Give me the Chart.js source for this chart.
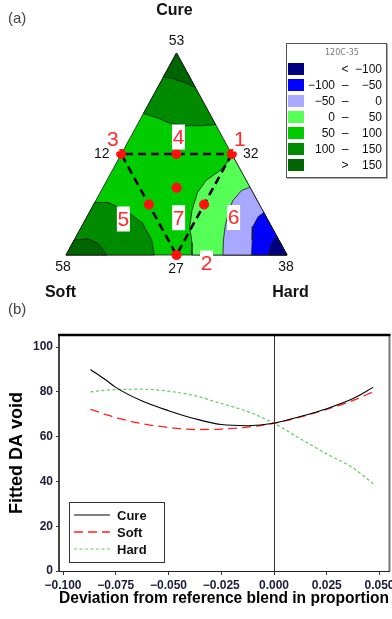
<!DOCTYPE html>
<html>
<head>
<meta charset="utf-8">
<script src="https://cdn.jsdelivr.net/npm/chart.js@4.4.1/dist/chart.umd.min.js"></script>
<style>
  html, body { margin: 0; padding: 0; background: #fff; }
  body { width: 392px; height: 619px; position: relative; overflow: hidden; font-family: 'Liberation Sans', Arial, sans-serif; }
  #ternary { position: absolute; left: 0; top: 0; }
  #profile { position: absolute; left: 0; top: 310px; }
  .tag { position: absolute; font-size: 15px; color: #444; z-index: 2; }
  #key { position: absolute; left: 286px; top: 43px; width: 99px; height: 133px; border: 1px solid #555;
         box-shadow: 1px 1px 0 #aaa; background: #fff; color: #111; }
  #key .title { position: absolute; left: 0; top: 4px; width: 110px; text-align: center; font-size: 8px; color: #777; font-family: 'DejaVu Sans', sans-serif; }
  #key .row { position: absolute; left: 0; width: 99px; height: 12px; font-size: 12px; line-height: 12px; }
  #key .sw { position: absolute; left: 1px; top: 0; width: 16px; height: 12px; }
  #key .lo { position: absolute; left: 16px; width: 32px; text-align: right; }
  #key .mid { position: absolute; left: 53px; width: 10px; text-align: center; }
  #key .hi { position: absolute; left: 62px; width: 33px; text-align: right; }
</style>
</head>
<body>
<div class="tag" style="left:8px; top:9px;">(a)</div>
<div class="tag" style="left:8px; top:300px;">(b)</div>
<canvas id="ternary" width="392" height="300"></canvas>
<div id="key"><div class="title">120C-35</div></div>
<canvas id="profile" width="392" height="309"></canvas>
<script>
// ---------- (a) mixture contour plot, points given as [Cure, Soft, Hard] ----------
const components = ['Cure', 'Soft', 'Hard'];
const vertexNumbers = ['53', '58', '38'];

const runLabels = ['1', '2', '3', '4', '5', '6', '7'];
const runCure = [0.5, 0, 0.5, 0.5, 0.25, 0.25, 0.333];
const runSoft = [0, 0.5, 0.5, 0.25, 0.5, 0.25, 0.333];
const runHard = [0.5, 0.5, 0, 0.25, 0.25, 0.5, 0.334];
const runNumbers = ['32', '27', '12'];   // values shown beside runs 1, 2, 3

const levelBreaks = [-100, -50, 0, 50, 100, 150];
const levelColors = ['#000080', '#0000ff', '#a8a8ff', '#55ff55', '#00cc00', '#008a00', '#006400'];

// contour regions: each starts at the corner it belongs to
const wholeTriangle = [[1, 0, 0], [0, 1, 0], [0, 0, 1]];
const top100 = [[1, 0, 0], [0.70, 0.30, 0], [0.68, 0.25, 0.07], [0.65, 0.20, 0.15], [0.64, 0.14, 0.22], [0.64, 0.07, 0.29], [0.645, 0, 0.355]];
const top150 = [[1, 0, 0], [0.88, 0.12, 0], [0.875, 0.085, 0.04], [0.85, 0.03, 0.12], [0.83, 0, 0.17]];
const soft100 = [[0, 1, 0], [0.26, 0.74, 0], [0.26, 0.68, 0.06], [0.22, 0.62, 0.16], [0.16, 0.575, 0.265], [0.075, 0.575, 0.35], [0, 0.60, 0.40]];
const soft150 = [[0, 1, 0], [0.075, 0.925, 0], [0.08, 0.86, 0.06], [0.055, 0.825, 0.12], [0, 0.815, 0.185]];
const hard0 = [[0, 0, 1], [0.49, 0, 0.51], [0.42, 0.09, 0.49], [0.37, 0.18, 0.45], [0.31, 0.25, 0.44], [0.22, 0.32, 0.46], [0.14, 0.37, 0.49], [0.06, 0.40, 0.54], [0, 0.43, 0.57]];
const hardNeg50 = [[0, 0, 1], [0.335, 0, 0.665], [0.32, 0.045, 0.635], [0.27, 0.11, 0.62], [0.21, 0.16, 0.63], [0.14, 0.21, 0.65], [0.075, 0.25, 0.675], [0, 0.29, 0.71]];
const hardNeg100 = [[0, 0, 1], [0.21, 0, 0.79], [0.19, 0.035, 0.775], [0.14, 0.085, 0.775], [0.075, 0.12, 0.805], [0, 0.16, 0.84]];
const hardLow = [[0, 0, 1], [0.09, 0, 0.91], [0.075, 0.025, 0.90], [0.04, 0.055, 0.905], [0, 0.085, 0.915]];

// ---------- (b) response trace ----------
const deviation = [-0.087, -0.08, -0.075, -0.0625, -0.05, -0.0375, -0.025, -0.0125, 0, 0.0125, 0.025, 0.0375, 0.047];
const cureFit = [90, 85.5, 82, 75.9, 71.6, 68, 65.4, 64.9, 66, 69, 72.5, 77, 82];
const softFit = [72.2, 70, 68.5, 65.8, 64.1, 63.2, 63.4, 64.3, 66, 68.8, 72.2, 76.2, 80];
const hardFit = [80, 80.7, 81, 81.2, 80.3, 78.3, 74.8, 71.2, 66, 59, 52.3, 46, 39];
const xTicks = [-0.1, -0.075, -0.05, -0.025, 0, 0.025, 0.05];
const yTicks = [0, 20, 40, 60, 80, 100];

const SANS = "'Liberation Sans', Arial, sans-serif";

// ternary -> plot coordinates (Soft at left, Hard at right, Cure on top)
function toXY(p) {
    return { x: p[2] + p[0] / 2, y: p[0] };
}
function ring(poly) {
    return poly.concat([poly[0]]).map(toXY);
}
function minus(v) {
    return (v < 0 ? '\u2212' : '') + Math.abs(v);
}

// colour key
var key = document.getElementById('key');
levelColors.forEach(function (c, i) {
    var lo = '', mid = '\u2013', hi = '';
    if (i === 0) { mid = '<'; hi = minus(levelBreaks[0]); }
    else if (i === levelColors.length - 1) { mid = '>'; hi = minus(levelBreaks[levelBreaks.length - 1]); }
    else { lo = minus(levelBreaks[i - 1]); hi = minus(levelBreaks[i]); }
    var row = document.createElement('div');
    row.className = 'row';
    row.style.top = (19 + i * 16) + 'px';
    row.innerHTML = '<span class="sw" style="background:' + c + '"></span><span class="lo">' + lo +
        '</span><span class="mid">' + mid + '</span><span class="hi">' + hi + '</span>';
    key.appendChild(row);
});

var regions = [
    [wholeTriangle, 4], [top100, 5], [top150, 6], [soft100, 5], [soft150, 6],
    [hard0, 3], [hardNeg50, 2], [hardNeg100, 1], [hardLow, 0]
];
var runPoints = runLabels.map(function (l, i) { return [runCure[i], runSoft[i], runHard[i]]; });

var ternDatasets = regions.map(function (r, k) {
    return {
        data: ring(r[0]),
        backgroundColor: levelColors[r[1]],
        borderColor: '#1a1a1a',
        borderWidth: 0.8,
        fill: 'shape',
        tension: 0,
        pointRadius: 0,
        clip: false,
        order: 100 - k
    };
});
ternDatasets.push({
    data: ring(runPoints.slice(0, 3)),
    borderColor: '#000',
    borderWidth: 2.6,
    borderDash: [8, 5],
    fill: false,
    pointRadius: 0,
    clip: false,
    order: 2
});
ternDatasets.push({
    data: runPoints.map(toXY),
    showLine: false,
    pointRadius: 4.6,
    pointBackgroundColor: '#ff1010',
    pointBorderColor: '#ff1010',
    clip: false,
    order: 1
});

// text around the triangle
var ternText = {
    id: 'ternText',
    afterDatasetsDraw: function (chart) {
        var ctx = chart.ctx, xs = chart.scales.x, ys = chart.scales.y;
        function px(p) { var q = toXY(p); return [xs.getPixelForValue(q.x), ys.getPixelForValue(q.y)]; }
        ctx.save();
        ctx.textAlign = 'center';
        ctx.textBaseline = 'middle';

        // run numbers in white boxes
        var runOff = [[8, -15], [30, 8], [-8.5, -15], [2, -17], [-25.5, 14.5], [29.5, 13], [2, 30]];
        runPoints.forEach(function (p, i) {
            var c = px(p), x = c[0] + runOff[i][0], y = c[1] + runOff[i][1];
            ctx.fillStyle = '#fff';
            ctx.fillRect(x - 6.5, y - 12.5, 13, 25);
            ctx.fillStyle = '#ff2a2a';
            ctx.font = '21px ' + SANS;
            ctx.fillText(runLabels[i], x, y + 1);
        });

        // corner values and run values
        ctx.fillStyle = '#111';
        ctx.font = '14px ' + SANS;
        var corners = [[1, 0, 0], [0, 1, 0], [0, 0, 1]];
        var cornerOff = [[0, -12], [-3, 12.5], [-1, 12.5]];
        corners.forEach(function (p, i) {
            var c = px(p);
            ctx.fillText(vertexNumbers[i], c[0] + cornerOff[i][0], c[1] + cornerOff[i][1]);
        });
        var numOff = [[19, 0], [-0.5, 14.5], [-19.5, 0]];
        runNumbers.forEach(function (t, i) {
            var c = px(runPoints[i]);
            ctx.fillText(t, c[0] + numOff[i][0], c[1] + numOff[i][1]);
        });

        // component names
        ctx.font = 'bold 16px ' + SANS;
        var nameOff = [[-2, -42], [-5.5, 37.5], [3.5, 37.5]];
        corners.forEach(function (p, i) {
            var c = px(p);
            ctx.fillText(components[i], c[0] + nameOff[i][0], c[1] + nameOff[i][1]);
        });
        ctx.restore();
    }
};

new Chart(document.getElementById('ternary'), {
    type: 'line',
    data: { datasets: ternDatasets },
    options: {
        responsive: false,
        animation: false,
        layout: { padding: { left: 66, right: 105, top: 53, bottom: 45 } },
        scales: {
            x: { type: 'linear', min: 0, max: 1, display: false },
            y: { type: 'linear', min: 0, max: 1, display: false }
        },
        plugins: { legend: { display: false }, tooltip: { enabled: false } }
    },
    plugins: [ternText]
});

// ---------- (b) ----------
var frame = {
    id: 'frame',
    beforeDatasetsDraw: function (chart) {
        var ctx = chart.ctx, a = chart.chartArea, x0 = chart.scales.x.getPixelForValue(0);
        ctx.save();
        ctx.strokeStyle = '#333';
        ctx.lineWidth = 1;
        ctx.beginPath();
        ctx.moveTo(Math.round(x0) + 0.5, a.top);
        ctx.lineTo(Math.round(x0) + 0.5, a.bottom);
        ctx.stroke();
        ctx.restore();
    },
    afterDraw: function (chart) {
        var ctx = chart.ctx, a = chart.chartArea;
        ctx.save();
        ctx.strokeStyle = '#777';
        ctx.lineWidth = 2;
        ctx.beginPath();
        ctx.moveTo(a.right + 0.5, a.top);
        ctx.lineTo(a.right + 0.5, a.bottom);
        ctx.stroke();
        ctx.strokeStyle = '#000';
        ctx.lineWidth = 2.5;
        ctx.beginPath();
        ctx.moveTo(a.left - 1, a.top);
        ctx.lineTo(a.right + 1.5, a.top);
        ctx.stroke();

        // legend box
        var bx = a.left + 10, by = a.bottom - 69;
        ctx.fillStyle = '#fff';
        ctx.fillRect(bx, by, 95, 60);
        ctx.strokeStyle = '#333';
        ctx.lineWidth = 1;
        ctx.strokeRect(bx + 0.5, by + 0.5, 95, 60);
        ctx.textBaseline = 'middle';
        ctx.font = 'bold 13px ' + SANS;
        chart.data.datasets.forEach(function (ds, i) {
            var ly = by + 13 + i * 17;
            ctx.strokeStyle = ds.borderColor;
            ctx.lineWidth = ds.borderWidth;
            ctx.setLineDash(ds.borderDash || []);
            ctx.beginPath();
            ctx.moveTo(bx + 5, ly);
            ctx.lineTo(bx + 41, ly);
            ctx.stroke();
            ctx.setLineDash([]);
            ctx.fillStyle = '#111';
            ctx.fillText(ds.label, bx + 48, ly + 1);
        });
        ctx.restore();
    }
};

function pairs(ys) {
    return deviation.map(function (x, i) { return { x: x, y: ys[i] }; });
}

new Chart(document.getElementById('profile'), {
    type: 'line',
    data: {
        datasets: [
            { label: 'Cure', data: pairs(cureFit), borderColor: '#000', borderWidth: 1.1 },
            { label: 'Soft', data: pairs(softFit), borderColor: '#ff2020', borderWidth: 1.3, borderDash: [9, 5] },
            { label: 'Hard', data: pairs(hardFit), borderColor: '#5ccc5c', borderWidth: 1.2, borderDash: [3, 2.5] }
        ]
    },
    options: {
        responsive: false,
        animation: false,
        layout: { padding: { left: 0, right: 3, top: 25, bottom: 0 } },
        elements: {
            point: { radius: 0 },
            line: { cubicInterpolationMode: 'monotone', fill: false }
        },
        scales: {
            x: {
                type: 'linear',
                min: -0.1019,
                max: 0.0545,
                afterBuildTicks: function (s) { s.ticks = xTicks.map(function (v) { return { value: v }; }); },
                afterFit: function (s) { s.height = 48; s.paddingLeft = 0; s.paddingRight = 0; },
                grid: { drawOnChartArea: false, tickLength: 4, color: '#333' },
                border: { color: '#222', width: 1 },
                ticks: {
                    padding: 3,
                    maxRotation: 0,
                    autoSkip: false,
                    color: '#1c1c3a',
                    font: { family: SANS, size: 12, weight: 'bold' },
                    callback: function (v) { return (v < 0 ? '\u2212' : '') + Math.abs(v).toFixed(3); }
                },
                title: {
                    display: true,
                    text: 'Deviation from reference blend in proportion',
                    color: '#000',
                    font: { family: SANS, size: 16, weight: 'bold' },
                    padding: { top: 0, bottom: 11 }
                }
            },
            y: {
                min: 0,
                max: 105.4,
                afterBuildTicks: function (s) { s.ticks = yTicks.map(function (v) { return { value: v }; }); },
                afterFit: function (s) { s.width = 59; s.paddingTop = 0; s.paddingBottom = 0; },
                grid: { drawOnChartArea: false, tickLength: 3, color: '#333' },
                border: { color: '#444', width: 2 },
                ticks: {
                    padding: 3,
                    color: '#1c1c3a',
                    font: { family: SANS, size: 12, weight: 'bold' }
                },
                title: {
                    display: true,
                    text: 'Fitted DA void',
                    color: '#000',
                    font: { family: SANS, size: 18, weight: 'bold' },
                    padding: { top: 6, bottom: 0 }
                }
            }
        },
        plugins: { legend: { display: false }, tooltip: { enabled: false } }
    },
    plugins: [frame]
});
</script>
</body>
</html>
